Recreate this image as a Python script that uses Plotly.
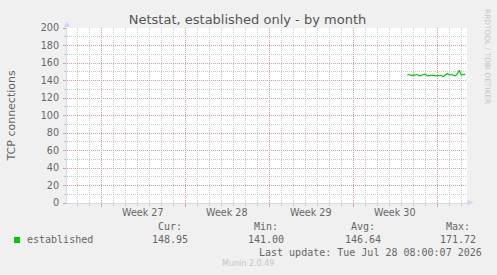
import plotly.graph_objects as go
import pandas as pd

# ---------------- data ----------------
title_text = "Netstat, established only - by month"
y_title = "TCP connections"
series_name = "established"

times = pd.date_range("2026-07-23 12:00", periods=30, freq="4h")
established = [146.1, 146.8, 145.7, 146.4, 146.1, 146.8, 145.3, 146.1, 146.8, 147.2,
               145.3, 145.7, 146.4, 146.1, 145.3, 145.7, 145.3, 145.7, 144.5, 146.8,
               148.0, 146.4, 146.8, 146.1, 145.3, 147.6, 151.8, 146.1, 146.8, 147.2]

week_labels = ["Week 27", "Week 28", "Week 29", "Week 30"]
week_centers = ["2026-07-01 12:00", "2026-07-08 12:00", "2026-07-15 12:00", "2026-07-22 12:00"]
week_start = "2026-06-28"
x_range = ["2026-06-25 03:24", "2026-07-28 11:24"]
y_range = [0, 200]

stat_names = ["Cur:", "Min:", "Avg:", "Max:"]
stat_values = ["148.95", "141.00", "146.64", "171.72"]
last_update = "Last update: Tue Jul 28 08:00:07 2026"
munin_version = "Munin 2.0.49"
rrd_credit = "RRDTOOL / TOBI OETIKER"

# ---------------- layout helpers ----------------
W, H = 497, 275
L, R, T, B = 67, 30, 28, 72
PW, PH = W - L - R, H - T - B


def px(x):
    return (x - L) / PW


def py(y):
    return (H - B - y) / PH


FONT = "DejaVu Sans"
MONO = "DejaVu Sans Mono"
FC = "#666666"
AXIS_C = "#CFD6F8"
GREEN = "#00cc00"
MGRID = "#eb9696"
GRID = "#c8c8c8"
DAY_MS = 86400000
DOT = "1px,1px"

# minor grid positions: every day / every 10 units, skipping the major ones
all_days = pd.date_range("2026-06-25", "2026-07-29", freq="D")
minor_days = [d.strftime("%Y-%m-%d") for d in all_days if d.dayofweek != 6]
minor_y = list(range(10, 200, 20))

fig = go.Figure()
# helper (empty) trace that anchors the overlay axes carrying the major grid
fig.add_trace(go.Scatter(x=[], y=[], xaxis="x2", yaxis="y2", showlegend=False,
                         hoverinfo="skip"))
fig.add_trace(go.Scatter(x=times, y=established, mode="lines",
                         line=dict(color=GREEN, width=1.2), name=series_name,
                         showlegend=False, hoverinfo="skip"))

fig.update_layout(
    width=W, height=H, autosize=False,
    margin=dict(l=L, r=R, t=T, b=B, pad=0),
    paper_bgcolor="#f0f0f0", plot_bgcolor="#ffffff",
    title=dict(text=title_text, x=247.5 / W, xref="container", xanchor="center",
               y=1 - 19.5 / H, yref="container", yanchor="middle",
               font=dict(family=FONT, size=13, color="#555555")),
    font=dict(family=FONT, size=10, color=FC),
    # minor (daily / 10-unit) grid on the main axes
    xaxis=dict(type="date", range=x_range, showticklabels=False,
               tickmode="array", tickvals=minor_days,
               showgrid=True, gridcolor=GRID, griddash=DOT, gridwidth=1,
               ticks="outside", ticklen=2, tickcolor=GRID,
               showline=True, linecolor=AXIS_C, linewidth=1, zeroline=False),
    yaxis=dict(range=y_range, tickmode="array", tickvals=minor_y,
               showticklabels=False,
               showgrid=True, gridcolor=GRID, griddash=DOT, gridwidth=1,
               ticks="outside", ticklen=2, tickcolor=GRID,
               showline=True, linecolor=AXIS_C, linewidth=1, zeroline=False),
    # major (weekly / 20-unit) grid on overlay axes
    xaxis2=dict(type="date", range=x_range, overlaying="x", anchor="y",
                side="bottom", showticklabels=False,
                tickmode="linear", tick0=week_start, dtick=7 * DAY_MS,
                showgrid=True, gridcolor=MGRID, griddash=DOT, gridwidth=1,
                ticks="outside", ticklen=3, tickcolor=MGRID,
                showline=False, zeroline=False),
    yaxis2=dict(range=y_range, overlaying="y", anchor="x", side="left",
                tickmode="linear", tick0=0, dtick=20,
                tickfont=dict(family=FONT, size=9.6, color=FC),
                showgrid=True, gridcolor=MGRID, griddash=DOT, gridwidth=1,
                ticks="outside", ticklen=3, tickcolor=MGRID, ticklabelstandoff=2,
                showline=False, zeroline=False),
)

ann = []
# week labels
for lab, c in zip(week_labels, week_centers):
    ann.append(dict(x=c, xref="x", y=py(212), yref="paper", text=lab, showarrow=False,
                    xanchor="center", yanchor="middle", borderpad=0,
                    font=dict(family=FONT, size=9.6, color=FC)))
# y title
ann.append(dict(x=px(11), y=py(115.5), xref="paper", yref="paper", text=y_title,
                textangle=-90, showarrow=False, xanchor="center", yanchor="middle",
                font=dict(family=FONT, size=11, color=FC)))
# rrdtool credit
ann.append(dict(x=px(488), y=py(56), xref="paper", yref="paper", text=rrd_credit,
                textangle=90, showarrow=False, xanchor="center", yanchor="middle",
                font=dict(family=FONT, size=7.4, color="#c4c4c4")))
# legend
ann.append(dict(x=px(26), y=py(239.7), xref="paper", yref="paper", text=series_name,
                showarrow=False, xanchor="left", yanchor="middle", borderpad=0,
                font=dict(family=MONO, size=10, color=FC)))
name_right = [182.5, 278.5, 375.5, 470.5]
val_right = [188.5, 284.5, 381.5, 477]
for n, v, nr, vr in zip(stat_names, stat_values, name_right, val_right):
    ann.append(dict(x=px(nr), y=py(226.7), xref="paper", yref="paper", text=n,
                    showarrow=False, xanchor="right", yanchor="middle", borderpad=0,
                    font=dict(family=MONO, size=10, color=FC)))
    ann.append(dict(x=px(vr), y=py(239.7), xref="paper", yref="paper", text=v,
                    showarrow=False, xanchor="right", yanchor="middle", borderpad=0,
                    font=dict(family=MONO, size=10, color=FC)))
ann.append(dict(x=px(482.5), y=py(252.3), xref="paper", yref="paper", text=last_update,
                showarrow=False, xanchor="right", yanchor="middle", borderpad=0,
                font=dict(family=MONO, size=10, color=FC)))
ann.append(dict(x=px(248), y=py(263.5), xref="paper", yref="paper", text=munin_version,
                showarrow=False, xanchor="center", yanchor="middle", borderpad=0,
                font=dict(family=FONT, size=8, color="#c4c4c4")))
fig.update_layout(annotations=ann)


def tri(points):
    s = "M " + " L ".join(f"{px(a):.5f},{py(b):.5f}" for a, b in points) + " Z"
    return s


shapes = [
    # axis arrows
    dict(type="path", xref="paper", yref="paper", path=tri([(66.8, 21.0), (63.8, 27.0), (69.8, 27.0)]),
         fillcolor=AXIS_C, line=dict(width=0)),
    dict(type="path", xref="paper", yref="paper", path=tri([(473.5, 202.5), (467.5, 199.5), (467.5, 205.5)]),
         fillcolor=AXIS_C, line=dict(width=0)),
    # legend swatch
    dict(type="rect", xref="paper", yref="paper", x0=px(14), x1=px(20), y0=py(243), y1=py(237),
         fillcolor=GREEN, line=dict(width=0)),
]
fig.update_layout(shapes=shapes)

fig.write_html("out.html")
